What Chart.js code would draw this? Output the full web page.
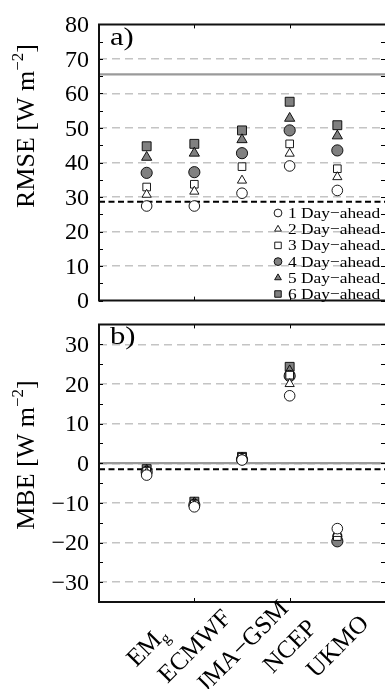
<!DOCTYPE html>
<html><head><meta charset="utf-8">
<script src="https://cdn.jsdelivr.net/npm/chart.js@4.4.0/dist/chart.umd.min.js"></script>
<style>
html,body{margin:0;padding:0;background:#fff;width:385px;height:689px;overflow:hidden;position:relative}
canvas{position:absolute;left:0}
#c1{top:0}
#c2{top:300px}
</style></head><body>
<canvas id="c1" width="385" height="325"></canvas>
<canvas id="c2" width="385" height="389"></canvas>
<script>
// ---------------- data ----------------
const categories = ['EM_g', 'ECMWF', 'JMA\u2212GSM', 'NCEP', 'UKMO'];
const seriesNames = ['1 Day\u2212ahead', '2 Day\u2212ahead', '3 Day\u2212ahead', '4 Day\u2212ahead', '5 Day\u2212ahead', '6 Day\u2212ahead'];

// RMSE [W m-2]
const rmse1 = [27.4, 27.4, 31.1, 39.0, 31.9];
const rmse2 = [30.7, 31.6, 34.8, 42.6, 35.8];
const rmse3 = [32.9, 33.7, 38.8, 45.4, 38.2];
const rmse4 = [37.0, 37.2, 42.7, 49.3, 43.5];
const rmse5 = [41.5, 42.7, 46.6, 52.8, 47.7];
const rmse6 = [44.7, 45.4, 49.3, 57.6, 50.8];

// MBE [W m-2]
const mbe1 = [-3.0, -11.0, 0.8, 17.0, -16.5];
const mbe2 = [-2.4, -10.6, 1.2, 20.0, -17.8];
const mbe3 = [-2.0, -10.3, 1.5, 22.2, -18.5];
const mbe4 = [-2.2, -10.5, 1.0, 22.0, -19.7];
const mbe5 = [-1.8, -10.0, 1.3, 23.3, -19.3];
const mbe6 = [-1.5, -9.7, 1.6, 24.3, -19.1];

const rmseTicks = [0, 10, 20, 30, 40, 50, 60, 70, 80];
const mbeTicks = [-30, -20, -10, 0, 10, 20, 30];

const rmseRefGray = 65.5, rmseRefBlack = 28.6;
const mbeRefGray = 0.0, mbeRefBlack = -1.5;

// ---------------- styles ----------------
const GRAY = '#808080';
const styles = [
  {ps: 'circle',   r: 5.3, fill: '#ffffff'},
  {ps: 'triangle', r: 5.3, fill: '#ffffff'},
  {ps: 'rect',     r: 5.4, fill: '#ffffff'},
  {ps: 'circle',   r: 5.6, fill: GRAY},
  {ps: 'triangle', r: 5.9, fill: GRAY},
  {ps: 'rect',     r: 6.3, fill: GRAY}
];
const FONT = "'Liberation Serif','Times New Roman',serif";

function pointsOf(arr) { return arr.map((v, i) => ({x: i + 1, y: v})); }

function buildDatasets(series, refGray, refBlack) {
  const ds = series.map((arr, k) => ({
    type: 'scatter',
    label: seriesNames[k],
    data: pointsOf(arr),
    pointStyle: styles[k].ps,
    pointRadius: styles[k].r,
    pointBackgroundColor: styles[k].fill,
    pointBorderColor: '#000',
    pointBorderWidth: 0.9,
    showLine: false
  }));
  ds.push({type: 'line', label: 'ref-black', data: [{x: 0, y: refBlack}, {x: 6, y: refBlack}],
    borderColor: '#000', borderWidth: 2, borderDash: [6, 3.5], pointRadius: 0, fill: false});
  ds.push({type: 'line', label: 'ref-gray', data: [{x: 0, y: refGray}, {x: 6, y: refGray}],
    borderColor: '#9a9a9a', borderWidth: 2.2, pointRadius: 0, fill: false});
  return ds;
}

function drawMarker(ctx, st, x, y, r) {
  ctx.save();
  ctx.fillStyle = st.fill; ctx.strokeStyle = '#000'; ctx.lineWidth = 0.9;
  ctx.beginPath();
  if (st.ps === 'circle') {
    ctx.arc(x, y, r, 0, Math.PI * 2);
  } else if (st.ps === 'triangle') {
    ctx.moveTo(x, y - r);
    ctx.lineTo(x + 0.866 * r, y + 0.5 * r);
    ctx.lineTo(x - 0.866 * r, y + 0.5 * r);
    ctx.closePath();
  } else {
    const s = Math.SQRT1_2 * r;
    ctx.rect(x - s, y - s, 2 * s, 2 * s);
  }
  ctx.fill(); ctx.stroke();
  ctx.restore();
}

function drawYTitle(ctx, main, sup, tail, cx, cy) {
  ctx.save();
  ctx.fillStyle = '#000';
  const f1 = '26px ' + FONT, f2 = '17px ' + FONT;
  ctx.font = f1; const w1 = ctx.measureText(main).width; const w3 = ctx.measureText(tail).width;
  ctx.font = f2; const w2 = ctx.measureText(sup).width;
  const tot = w1 + w2 + w3;
  ctx.translate(cx, cy);
  ctx.rotate(-Math.PI / 2);
  ctx.textBaseline = 'alphabetic'; ctx.textAlign = 'left';
  let x = -tot / 2;
  ctx.font = f1; ctx.fillText(main, x, 0); x += w1;
  ctx.font = f2; ctx.fillText(sup, x, -11); x += w2;
  ctx.font = f1; ctx.fillText(tail, x, 0);
  ctx.restore();
}

function framePlugin(cfg) {
  return {
    id: 'frame',
    afterDraw(chart) {
      const ctx = chart.ctx, a = chart.chartArea;
      const ys = chart.scales.y, xs = chart.scales.x;
      ctx.save();
      // inner tick marks
      ctx.strokeStyle = '#000'; ctx.lineWidth = 1;
      for (let v = ys.min; v <= ys.max + 1e-9; v += 5) {
        const py = Math.round(ys.getPixelForValue(v)) + 0.5;
        ctx.beginPath(); ctx.moveTo(a.left, py); ctx.lineTo(a.left + 4, py); ctx.stroke();
        ctx.beginPath(); ctx.moveTo(a.right, py); ctx.lineTo(a.right - 4, py); ctx.stroke();
      }
      for (let v = 2; v <= 4; v += 2) {
        const px = Math.round(xs.getPixelForValue(v)) + 0.5;
        ctx.beginPath(); ctx.moveTo(px, a.top); ctx.lineTo(px, a.top + 4); ctx.stroke();
        ctx.beginPath(); ctx.moveTo(px, a.bottom); ctx.lineTo(px, a.bottom - 4); ctx.stroke();
      }
      // frame (left, top, bottom)
      ctx.lineWidth = 2; ctx.strokeStyle = '#111';
      ctx.beginPath();
      ctx.moveTo(a.right + 2, a.top); ctx.lineTo(a.left, a.top); ctx.lineTo(a.left, a.bottom); ctx.lineTo(a.right + 2, a.bottom);
      ctx.stroke();
      // panel label
      ctx.save();
      ctx.fillStyle = '#000';
      ctx.font = '26px ' + FONT; ctx.textAlign = 'left'; ctx.textBaseline = 'alphabetic';
      ctx.translate(a.left + 11, a.top + cfg.panelDy);
      ctx.scale(1.18, 1);
      ctx.fillText(cfg.panel, 0, 0);
      ctx.restore();
      // y title
      drawYTitle(ctx, cfg.title, '\u22122', ']', 34, cfg.titleCy);
      // legend
      if (cfg.legend) {
        ctx.font = '15.5px ' + FONT; ctx.textBaseline = 'middle';
        seriesNames.forEach((name, k) => {
          const y = 213 + k * 16.2;
          drawMarker(ctx, styles[k], 278, y, styles[k].ps === 'rect' ? 4.6 : 3.9);
          ctx.save();
          ctx.translate(288, y + 1);
          ctx.scale(1.12, 1);
          ctx.fillStyle = '#000';
          ctx.fillText(name, 0, 0);
          ctx.restore();
        });
      }
      // category labels
      if (cfg.xlabels) {
        categories.forEach((lab, i) => {
          const px = xs.getPixelForValue(i + 1);
          const parts = lab.split('_');
          const fMain = '25px ' + FONT, fSub = '16px ' + FONT;
          ctx.font = fMain; const w1 = ctx.measureText(parts[0]).width;
          ctx.font = fSub; const w2 = parts[1] ? ctx.measureText(parts[1]).width : 0;
          const tot = w1 + w2;
          ctx.save();
          ctx.translate(px, 346);
          ctx.rotate(-Math.PI / 4);
          ctx.fillStyle = '#000';
          ctx.textAlign = 'left'; ctx.textBaseline = 'alphabetic';
          ctx.font = fMain; ctx.fillText(parts[0], -tot / 2, 8);
          if (parts[1]) { ctx.font = fSub; ctx.fillText(parts[1], -tot / 2 + w1, 13); }
          ctx.restore();
        });
      }
      ctx.restore();
    }
  };
}

function makeChart(id, series, refG, refB, yMin, yMax, ticks, pad, cfg) {
  return new Chart(document.getElementById(id), {
    data: {datasets: buildDatasets(series, refG, refB)},
    options: {
      responsive: false, animation: false, devicePixelRatio: 1, events: [],
      layout: {padding: pad, autoPadding: false},
      plugins: {legend: {display: false}, tooltip: {enabled: false}, title: {display: false}},
      scales: {
        x: {type: 'linear', min: 0, max: 6, display: false},
        y: {
          type: 'linear', min: yMin, max: yMax,
          afterFit: s => { s.width = 99; },
          afterBuildTicks: s => { s.ticks = ticks.map(v => ({value: v})); },
          ticks: {
            padding: 10, color: '#000', labelOffset: 1.5,
            font: {family: FONT, size: 24},
            callback: v => (v < 0 ? '\u2212' + Math.abs(v) : String(v))
          },
          grid: {
            drawTicks: false, lineWidth: 1.4,
            color: c => (c.tick && (c.tick.value === yMin || c.tick.value === yMax)) ? 'rgba(0,0,0,0)' : '#c4c4c4'
          },
          border: {display: false, dash: [8, 5]}
        }
      }
    },
    plugins: [framePlugin(cfg)]
  });
}

makeChart('c1', [rmse1, rmse2, rmse3, rmse4, rmse5, rmse6], rmseRefGray, rmseRefBlack, 0, 80, rmseTicks,
  {top: 16, bottom: 21, left: 0, right: 0},
  {panel: 'a)', panelDy: 21, title: 'RMSE [W m', titleCy: 126, legend: true, xlabels: false});

makeChart('c2', [mbe1, mbe2, mbe3, mbe4, mbe5, mbe6], mbeRefGray, mbeRefBlack, -35, 35, mbeTicks,
  {top: 13, bottom: 87, left: 0, right: 0},
  {panel: 'b)', panelDy: 20, title: 'MBE [W m', titleCy: 155, legend: false, xlabels: true});
</script>
</body></html>
